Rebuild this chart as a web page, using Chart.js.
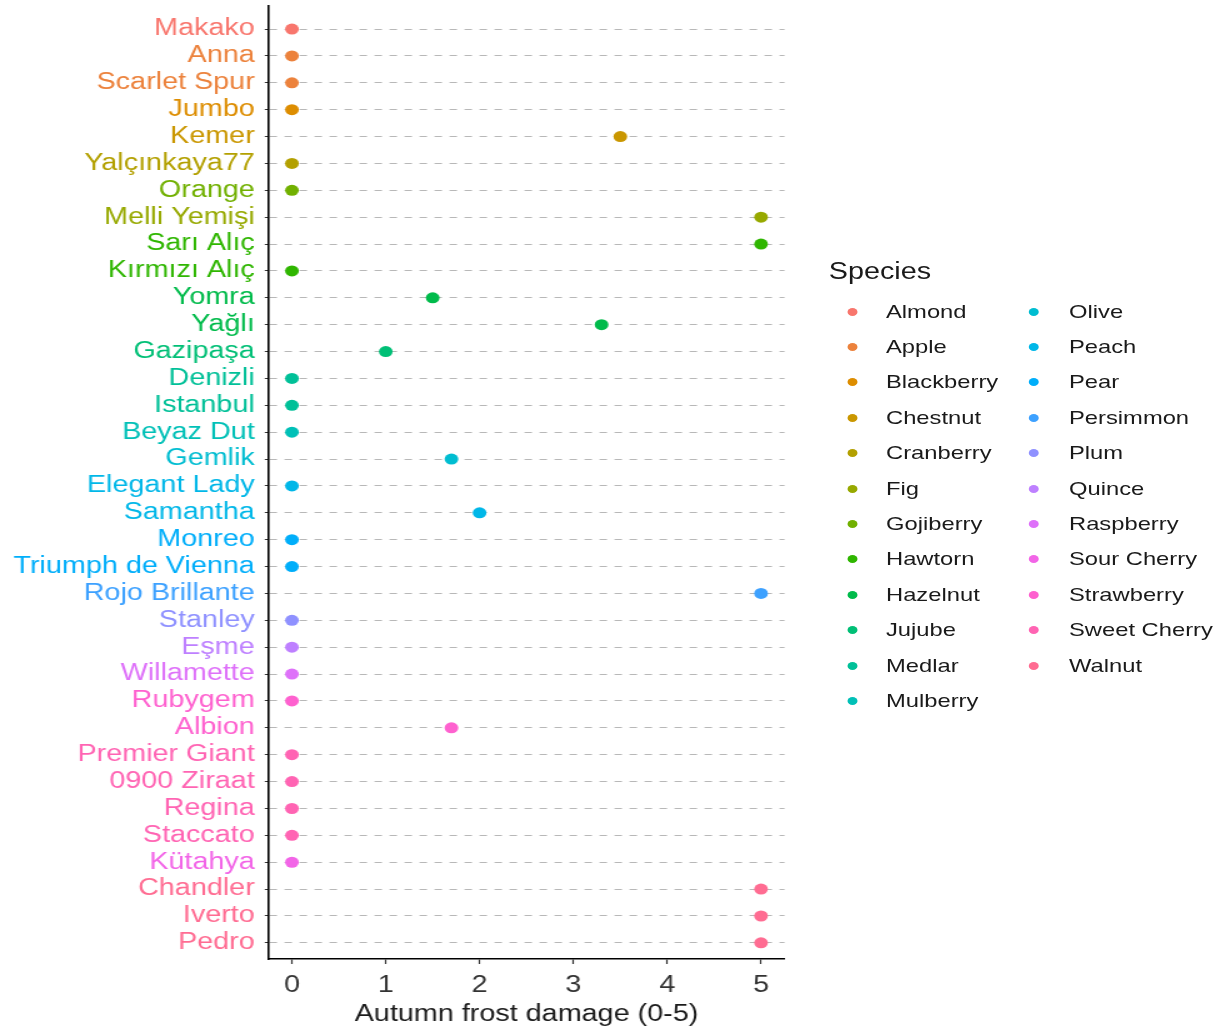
<!DOCTYPE html>
<html>
<head>
<meta charset="utf-8">
<script src="https://cdn.jsdelivr.net/npm/chart.js@4"></script>
<style>
  body { margin: 0; background: #fff; overflow: hidden; }
  /* the reference picture is stretched sideways, so the whole figure is too */
  #wrap { position: relative; width: 976px; height: 1028px; transform: scaleX(1.25); transform-origin: 0 0; }
  #plot { position: absolute; left: 0; top: 0; width: 640px; height: 1028px; }
  #legend { position: absolute; left: 0; top: 0; font-family: 'Liberation Sans', Arial, sans-serif; }
  .lg-title { position: absolute; font-size: 23px; color: #1a1a1a; white-space: nowrap; }
  .lg-dot { position: absolute; width: 8px; height: 8px; border-radius: 50%; }
  .lg-text { position: absolute; font-size: 19px; color: #1a1a1a; white-space: nowrap; line-height: 22px; }
</style>
</head>
<body>
<div id="wrap">
  <div id="plot"><canvas id="frostChart"></canvas></div>
  <div id="legend"></div>
</div>
<script>
// Species in legend order
const species = ['Almond', 'Apple', 'Blackberry', 'Chestnut', 'Cranberry', 'Fig', 'Gojiberry',
  'Hawtorn', 'Hazelnut', 'Jujube', 'Medlar', 'Mulberry', 'Olive', 'Peach', 'Pear', 'Persimmon',
  'Plum', 'Quince', 'Raspberry', 'Sour Cherry', 'Strawberry', 'Sweet Cherry', 'Walnut'];

// Cultivars top to bottom
const cultivars = ['Makako', 'Anna', 'Scarlet Spur', 'Jumbo', 'Kemer', 'Yalçınkaya77', 'Orange',
  'Melli Yemişi', 'Sarı Alıç', 'Kırmızı Alıç', 'Yomra', 'Yağlı', 'Gazipaşa', 'Denizli', 'Istanbul',
  'Beyaz Dut', 'Gemlik', 'Elegant Lady', 'Samantha', 'Monreo', 'Triumph de Vienna', 'Rojo Brillante',
  'Stanley', 'Eşme', 'Willamette', 'Rubygem', 'Albion', 'Premier Giant', '0900 Ziraat', 'Regina',
  'Staccato', 'Kütahya', 'Chandler', 'Iverto', 'Pedro'];

const cultivarSpecies = ['Almond', 'Apple', 'Apple', 'Blackberry', 'Chestnut', 'Cranberry', 'Gojiberry',
  'Fig', 'Hawtorn', 'Hawtorn', 'Hazelnut', 'Hazelnut', 'Jujube', 'Medlar', 'Medlar',
  'Mulberry', 'Olive', 'Peach', 'Peach', 'Pear', 'Pear', 'Persimmon',
  'Plum', 'Quince', 'Raspberry', 'Strawberry', 'Strawberry', 'Sweet Cherry', 'Sweet Cherry', 'Sweet Cherry',
  'Sweet Cherry', 'Sour Cherry', 'Walnut', 'Walnut', 'Walnut'];

// Autumn frost damage (0-5)
const frostDamage = [0, 0, 0, 0, 3.5, 0, 0,
  5, 5, 0, 1.5, 3.3, 1, 0, 0,
  0, 1.7, 0, 2, 0, 0, 5,
  0, 0, 0, 0, 1.7, 0, 0, 0,
  0, 0, 5, 5, 5];

const xTicks = [0, 1, 2, 3, 4, 5];

// ggplot-style hue palette (hcl, c=100, l=65)
function hcl(h, c, l) {
  const hr = h * Math.PI / 180;
  const U = c * Math.cos(hr), V = c * Math.sin(hr);
  const Xn = 95.047, Yn = 100, Zn = 108.883;
  const Y = l > 8 ? Yn * Math.pow((l + 16) / 116, 3) : Yn * l / 903.3;
  const t = Xn + 15 * Yn + 3 * Zn;
  const u = U / (13 * l) + 4 * Xn / t;
  const v = V / (13 * l) + 9 * Yn / t;
  const X = 9 * Y * u / (4 * v);
  const Z = -X / 3 - 5 * Y + 3 * Y / v;
  const x = X / 100, y = Y / 100, z = Z / 100;
  const lin = [
    3.240479 * x - 1.537150 * y - 0.498535 * z,
    -0.969256 * x + 1.875992 * y + 0.041556 * z,
    0.055648 * x - 0.204043 * y + 1.057311 * z
  ];
  return '#' + lin.map(c => {
    let g = c <= 0.0031308 ? 12.92 * c : 1.055 * Math.pow(c, 1 / 2.4) - 0.055;
    g = Math.min(1, Math.max(0, g));
    return Math.round(g * 255).toString(16).padStart(2, '0');
  }).join('');
}
const n = species.length;
const speciesColors = species.map((s, i) => hcl(15 + 360 / n * i, 100, 65));
const colorOf = name => speciesColors[species.indexOf(name)];

const FONT = "'Liberation Sans', Arial, sans-serif";

// one scatter dataset per species
const datasets = species.map((s, si) => ({
  label: s,
  data: cultivars.map((c, i) => ({ x: frostDamage[i], y: i }))
    .filter((p, i) => cultivarSpecies[i] === s),
  backgroundColor: speciesColors[si],
  borderWidth: 0,
  pointRadius: 5.5,
  pointHoverRadius: 5.5
}));

const ctx = document.getElementById('frostChart').getContext('2d');
const frostChart = new Chart(ctx, {
  type: 'scatter',
  data: { datasets: datasets },
  options: {
    responsive: true,
    maintainAspectRatio: false,
    animation: false,
    layout: { padding: { top: 6.2, right: 12.4, left: 0, bottom: 0 } },
    plugins: {
      legend: { display: false },
      tooltip: { enabled: false }
    },
    scales: {
      x: {
        type: 'linear',
        min: -0.25,
        max: 5.25,
        afterBuildTicks: scale => { scale.ticks = xTicks.map(v => ({ value: v })); },
        afterFit: scale => { scale.height = 69; },
        grid: {
          drawOnChartArea: false,
          drawTicks: true,
          tickLength: 5,
          tickColor: '#333',
          tickWidth: 1.2
        },
        border: { display: true, color: '#000', width: 1.6 },
        ticks: {
          color: '#333',
          padding: 8,
          font: { family: FONT, size: 23 }
        },
        title: {
          display: true,
          text: 'Autumn frost damage (0-5)',
          color: '#1a1a1a',
          font: { family: FONT, size: 23 },
          padding: { top: 0, bottom: 0 }
        }
      },
      y: {
        type: 'linear',
        reverse: true,
        min: -0.85,
        max: cultivars.length - 1 + 0.6,
        afterBuildTicks: scale => { scale.ticks = cultivars.map((c, i) => ({ value: i })); },
        afterFit: scale => {
          scale.width = 214.8;
          scale.paddingTop = 0;
          scale.paddingBottom = 0;
        },
        grid: {
          color: '#b8b8b8',
          lineWidth: 1,
          drawTicks: true,
          tickLength: 3,
          tickColor: '#333',
          tickBorderDash: []
        },
        border: { display: true, color: '#000', width: 1.6, dash: [6, 6] },
        ticks: {
          autoSkip: false,
          padding: 8,
          font: { family: FONT, size: 23 },
          color: c => colorOf(cultivarSpecies[c.tick.value]),
          callback: v => cultivars[v]
        }
      }
    }
  }
});

// Legend: two columns, filled top to bottom
const legend = document.getElementById('legend');
const perCol = 12;
const title = document.createElement('div');
title.className = 'lg-title';
title.textContent = 'Species';
title.style.left = '663px';
title.style.top = '258px';
legend.appendChild(title);
species.forEach((s, i) => {
  const col = Math.floor(i / perCol), row = i % perCol;
  const cy = 311.5 + row * 35.4;
  const dot = document.createElement('div');
  dot.className = 'lg-dot';
  dot.style.background = speciesColors[i];
  dot.style.left = ((col ? 827.2 : 682.4) - 4) + 'px';
  dot.style.top = (cy - 4) + 'px';
  legend.appendChild(dot);
  const txt = document.createElement('div');
  txt.className = 'lg-text';
  txt.textContent = s;
  txt.style.left = (col ? 855.2 : 708.8) + 'px';
  txt.style.top = (cy - 11) + 'px';
  legend.appendChild(txt);
});
</script>
</body>
</html>
